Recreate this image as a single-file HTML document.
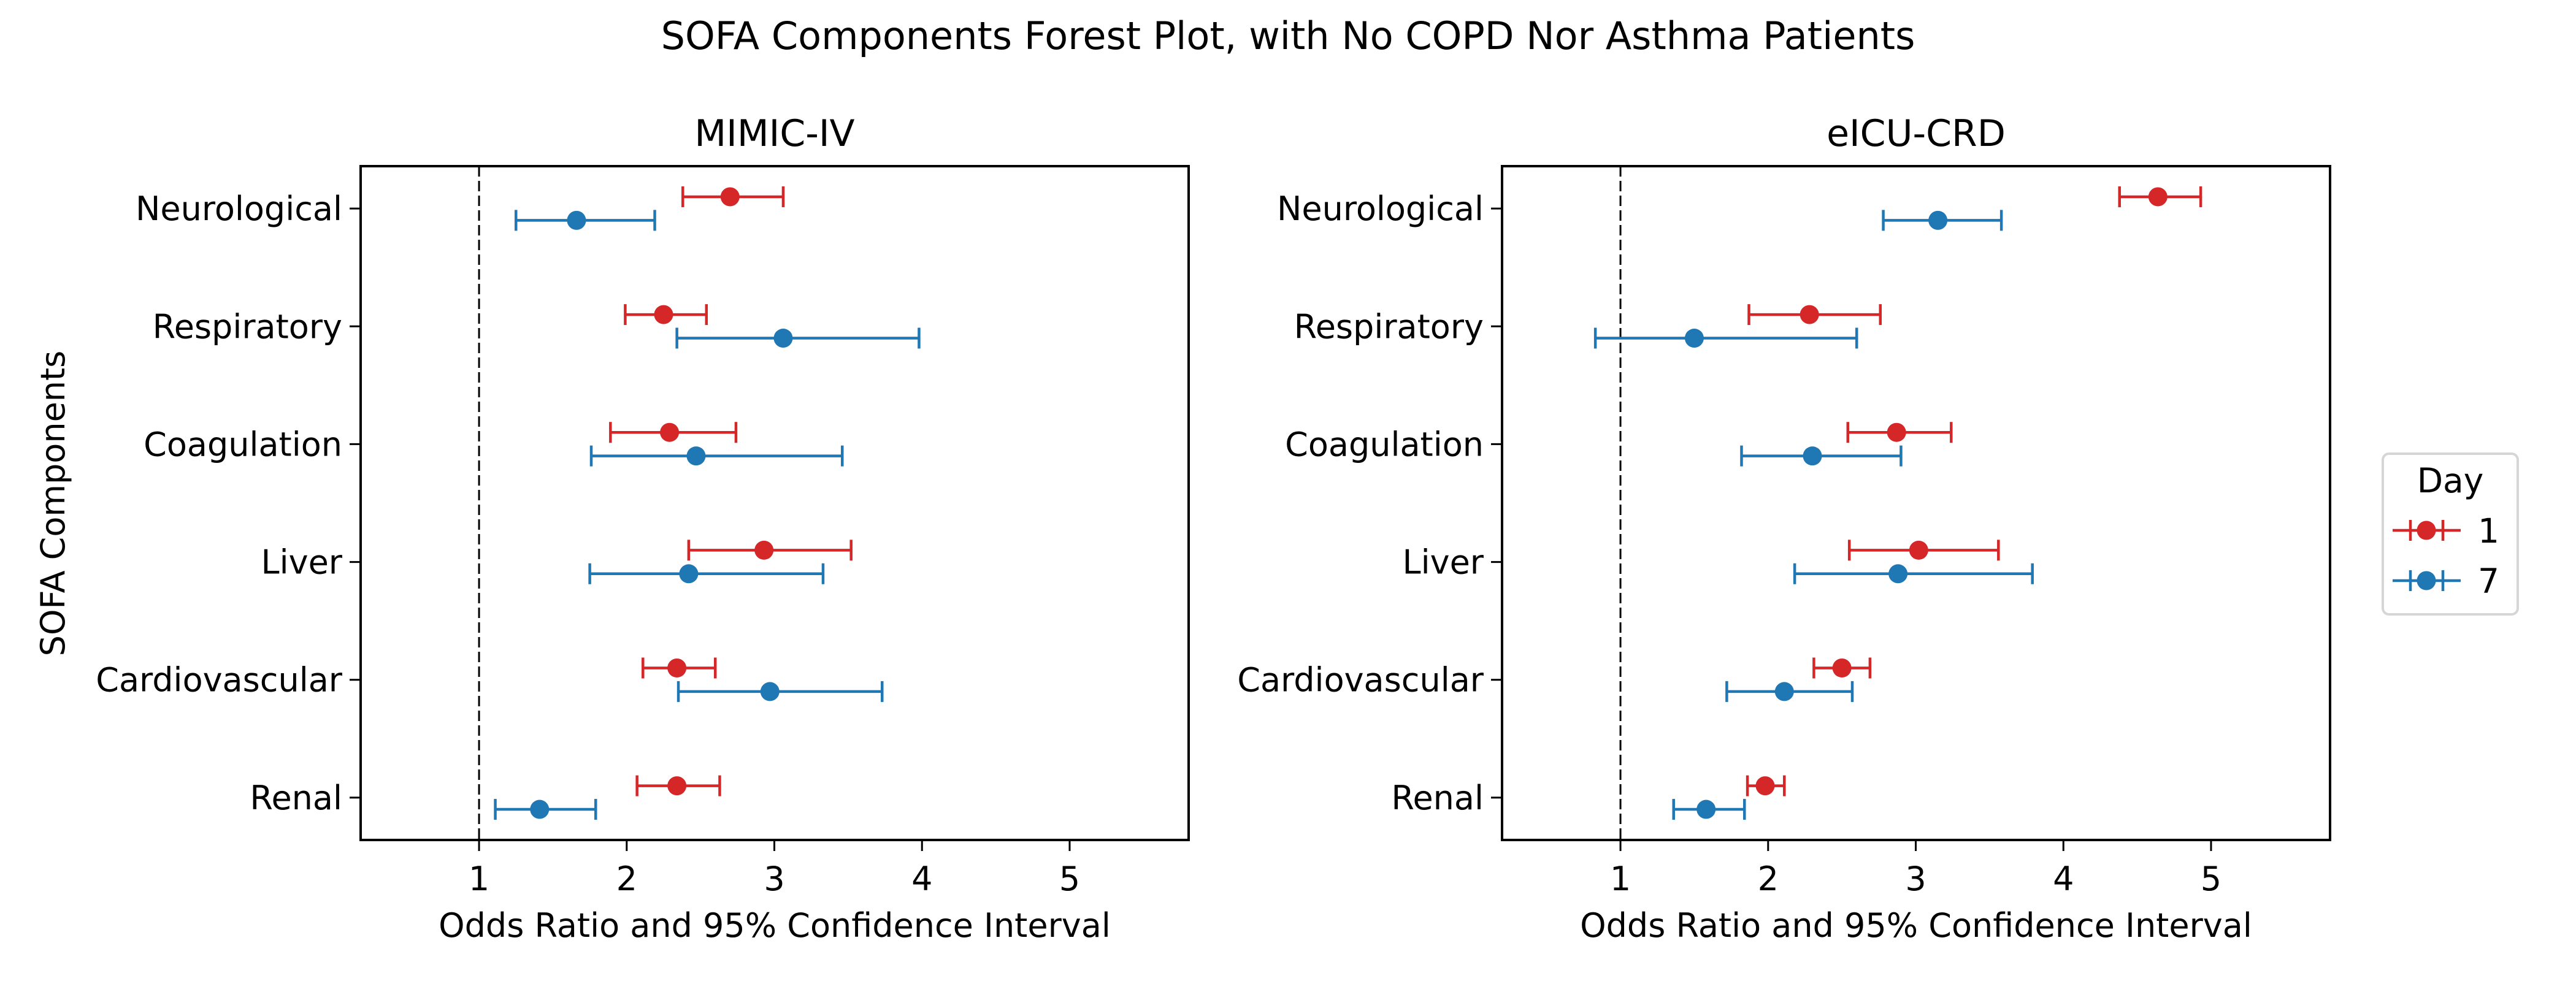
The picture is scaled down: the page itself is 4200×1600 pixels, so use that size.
<!DOCTYPE html>
<html><head><meta charset="utf-8"><style>
html,body{margin:0;padding:0;background:#fff;}
svg{display:block;font-family:"DejaVu Sans","Liberation Sans",sans-serif;}
</style></head><body>
<svg id="fig" width="4200" height="1600" viewBox="0 0 4200 1600" xmlns="http://www.w3.org/2000/svg">
<rect width="4200" height="1600" fill="#fff"/>
<text x="2100" y="80" font-size="62" text-anchor="middle">SOFA Components Forest Plot, with No COPD Nor Asthma Patients</text>
<g id="legend">
<rect x="3885" y="740" width="220" height="262" rx="10" fill="#fff" stroke="#d6d6d6" stroke-width="4"/>
<text x="3995" y="803" font-size="55" text-anchor="middle">Day</text>
<g>
<line x1="3901" y1="865" x2="4012" y2="865" stroke="#d62728" stroke-width="4.5"/>
<line x1="3930" y1="848" x2="3930" y2="882" stroke="#d62728" stroke-width="4.5"/>
<line x1="3983" y1="848" x2="3983" y2="882" stroke="#d62728" stroke-width="4.5"/>
<circle cx="3956" cy="865" r="15.5" fill="#d62728"/>
<text x="4040" y="885" font-size="55">1</text></g>
<g>
<line x1="3901" y1="947" x2="4012" y2="947" stroke="#1f77b4" stroke-width="4.5"/>
<line x1="3930" y1="930" x2="3930" y2="964" stroke="#1f77b4" stroke-width="4.5"/>
<line x1="3983" y1="930" x2="3983" y2="964" stroke="#1f77b4" stroke-width="4.5"/>
<circle cx="3956" cy="947" r="15.5" fill="#1f77b4"/>
<text x="4040" y="967" font-size="55">7</text></g>
</g>
</svg>
<script>
const categories = ["Neurological","Respiratory","Coagulation","Liver","Cardiovascular","Renal"];
const xTicks = [1,2,3,4,5];
const mimicDay1 = [2.70,2.25,2.29,2.93,2.34,2.34];
const mimicDay1Lo = [2.38,1.99,1.89,2.42,2.11,2.07];
const mimicDay1Hi = [3.06,2.54,2.74,3.52,2.60,2.63];
const mimicDay7 = [1.66,3.06,2.47,2.42,2.97,1.41];
const mimicDay7Lo = [1.25,2.34,1.76,1.75,2.35,1.11];
const mimicDay7Hi = [2.19,3.98,3.46,3.33,3.73,1.79];
const eicuDay1 = [4.64,2.28,2.87,3.02,2.50,1.98];
const eicuDay1Lo = [4.38,1.87,2.54,2.55,2.31,1.86];
const eicuDay1Hi = [4.93,2.76,3.24,3.56,2.69,2.11];
const eicuDay7 = [3.15,1.50,2.30,2.88,2.11,1.58];
const eicuDay7Lo = [2.78,0.83,1.82,2.18,1.72,1.36];
const eicuDay7Hi = [3.58,2.60,2.90,3.79,2.57,1.84];

const NS="http://www.w3.org/2000/svg";
const fig=document.getElementById('fig');
function mk(tag,attrs,parent){const e=document.createElementNS(NS,tag);for(const k in attrs)e.setAttribute(k,attrs[k]);(parent||fig).appendChild(e);return e;}

function panel(name,title,left,showYLabel,series){
  const top=271,bottom=1370,right=left+1350;
  const xmin=0.198,xmax=5.806,ymin=-0.36,ymax=5.36;
  const X=v=>left+(v-xmin)/(xmax-xmin)*(right-left);
  const Y=i=>top+(i-ymin)/(ymax-ymin)*(bottom-top);
  const g=mk('g',{});
  
  
  const t=mk('text',{x:(left+right)/2,y:238,'font-size':60,'text-anchor':'middle'},g);t.textContent=title;
  
  
  const ref=mk('line',{x1:X(1),x2:X(1),y1:top,y2:bottom,stroke:'#000','stroke-width':3,'stroke-dasharray':'17,7'},g);
  
  
  series.forEach(s=>{
    categories.forEach((c,i)=>{
      const y=Y(i+s.off);
      const grp=mk('g',{},g);
      
      
      mk('line',{x1:X(s.lo[i]),x2:X(s.hi[i]),y1:y,y2:y,stroke:s.color,'stroke-width':4.5},grp);
      mk('line',{x1:X(s.lo[i]),x2:X(s.lo[i]),y1:y-17,y2:y+17,stroke:s.color,'stroke-width':4.5},grp);
      mk('line',{x1:X(s.hi[i]),x2:X(s.hi[i]),y1:y-17,y2:y+17,stroke:s.color,'stroke-width':4.5},grp);
      mk('circle',{cx:X(s.v[i]),cy:y,r:15.5,fill:s.color},grp);
    });
  });
  const fr=mk('rect',{x:left,y:top,width:right-left,height:bottom-top,fill:'none',stroke:'#000','stroke-width':4},g);
  
  
  categories.forEach((c,i)=>{
    const y=Y(i);
    mk('line',{x1:left-18,x2:left,y1:y,y2:y,stroke:'#000','stroke-width':3},g);
    const tl=mk('text',{x:left-30,y:y+19,'font-size':54,'text-anchor':'end'},g);tl.textContent=c;
    
    
  });
  xTicks.forEach(v=>{
    const x=X(v);
    mk('line',{x1:x,x2:x,y1:bottom,y2:bottom+18,stroke:'#000','stroke-width':3},g);
    const tl=mk('text',{x:x,y:1452,'font-size':54,'text-anchor':'middle'},g);tl.textContent=v;
    
    
  });
  const xl=mk('text',{x:(left+right)/2,y:1528,'font-size':54,'text-anchor':'middle'},g);xl.textContent='Odds Ratio and 95% Confidence Interval';
  
  
  if(showYLabel){
    const yl=mk('text',{x:0,y:0,'font-size':54,'text-anchor':'middle',transform:'translate(105,821) rotate(-90)'},g);yl.textContent='SOFA Components';
    
    
  }
}
panel('mimic','MIMIC-IV',588,true,[
  {day:1,color:'#d62728',off:-0.1,v:mimicDay1,lo:mimicDay1Lo,hi:mimicDay1Hi},
  {day:7,color:'#1f77b4',off:0.1,v:mimicDay7,lo:mimicDay7Lo,hi:mimicDay7Hi}]);
panel('eicu','eICU-CRD',2449,false,[
  {day:1,color:'#d62728',off:-0.1,v:eicuDay1,lo:eicuDay1Lo,hi:eicuDay1Hi},
  {day:7,color:'#1f77b4',off:0.1,v:eicuDay7,lo:eicuDay7Lo,hi:eicuDay7Hi}]);
fig.appendChild(document.getElementById('legend'));
</script>
</body></html>
